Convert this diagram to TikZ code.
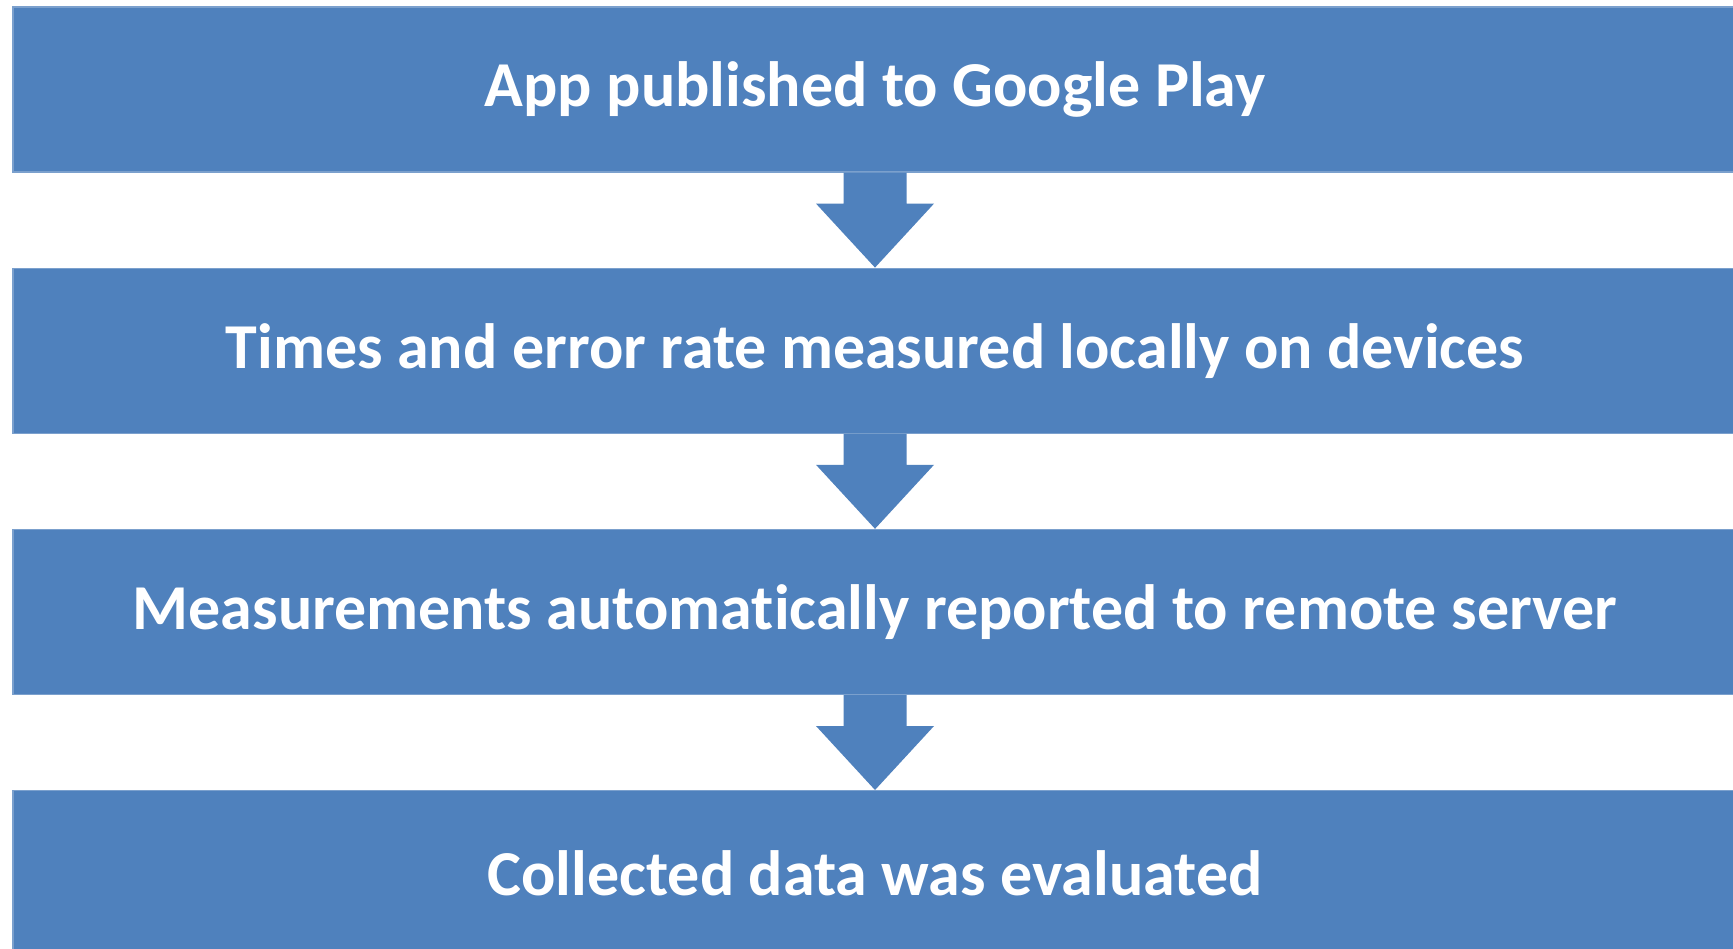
\documentclass[tikz,border=0pt]{standalone}
\usepackage{fontspec}
\setmainfont{Carlito}[Ligatures = NoCommon]
\usepackage{tikz}
\usetikzlibrary{positioning,calc}
\definecolor{stageblue}{HTML}{4F81BD}
\tikzset{
    stage/.style = {rectangle, fill = stageblue, draw = stageblue!75!white, line width = 0.6pt,
                    minimum width = 862pt, minimum height = 82.5pt, inner sep = 0pt,
                    text = white, font = \fontsize{32}{38}\selectfont\bfseries},
    flowarrow/.style = {fill = stageblue},
    node distance = 47.5pt
}

\begin{document}
\begin{tikzpicture}[x = 0.5pt, y = -0.5pt]
        \useasboundingbox [fill = white] (0,0) rectangle (1733,948);
        \begin{scope}
        \clip (0,0) rectangle (1733,948);
        \node [stage] (step1) at (875,89.5) {App published to Google Play};
        \node [stage, below = of step1] (step2) {Times and error rate measured locally on devices};
        \node [stage, below = of step2] (step3) {Measurements automatically reported to remote server};
        \node [stage, below = of step3] (step4) {Collected data was evaluated};
        \foreach \a/\b in {step1/step2, step2/step3, step3/step4}
            \fill [flowarrow] ($(\a.south)+(-31.5,0)$) -- ($(\a.south)+(31.5,0)$)
                -- ($(\a.south)+(31.5,31)$) -- ($(\a.south)+(59,31)$) -- (\b.north)
                -- ($(\a.south)+(-59,31)$) -- ($(\a.south)+(-31.5,31)$) -- cycle;
        \end{scope}
    \end{tikzpicture}
\end{document}
